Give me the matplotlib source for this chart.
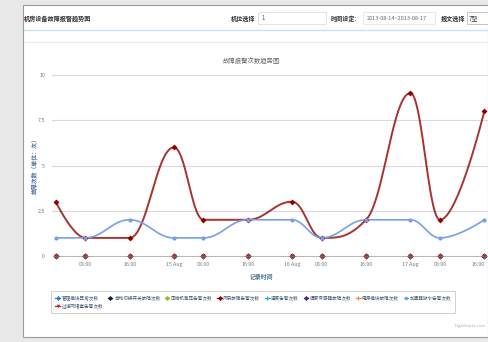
import numpy as np
import pandas as pd
import matplotlib
matplotlib.use("Agg")
import matplotlib.pyplot as plt
import matplotlib.dates as mdates
from matplotlib.patches import Rectangle
from matplotlib.lines import Line2D

plt.rcParams['font.family'] = ['Noto Sans CJK SC', 'DejaVu Sans']

# record times and fault counts
times = pd.to_datetime([
    "2013-08-14 00:00", "2013-08-14 06:00", "2013-08-14 15:00",
    "2013-08-15 00:00", "2013-08-15 06:00", "2013-08-15 15:00",
    "2013-08-16 00:00", "2013-08-16 06:00", "2013-08-16 15:00",
    "2013-08-17 00:00", "2013-08-17 06:00", "2013-08-17 15:00",
])
tick_labels = ["", "08:00", "16:00", "15 Aug", "08:00", "16:00",
               "16 Aug", "08:00", "16:00", "17 Aug", "08:00", "16:00"]

fan_faults = [3, 1, 1, 6, 2, 2, 3, 1, 2, 9, 2, 8]
humidifier_alarms = [1, 1, 2, 1, 1, 2, 2, 1, 2, 2, 1, 2]
zero_counts = [0] * 12

series_names = ["管理模块异常次数", "自动切换开关故障次数", "压缩机高压告警次数",
                "风扇故障告警次数", "温度告警次数", "湿度传感器故障次数",
                "电源模块故障次数", "加湿器缺水告警次数", "过滤网堵塞告警次数"]
series_colors = ['#2f7ed8', '#0d233a', '#8bbc21', '#910000', '#1aadce',
                 '#492970', '#f28f43', '#77a1e5', '#c42525']
series_markers = ['D', 'D', 'D', 'D', '+', 'D', '+', 'o', 'v']
series_values = [zero_counts, zero_counts, zero_counts, fan_faults, zero_counts,
                 zero_counts, zero_counts, humidifier_alarms, zero_counts]

W, H = 488, 342


def fx(x):
    return x / W


def fy(y):
    return 1 - y / H


def spline(xs, ys, smoothing=1.5, steps=40):
    # bezier spline through the points, highcharts style
    n = len(xs)
    lc = [(xs[i], ys[i]) for i in range(n)]
    rc = [(xs[i], ys[i]) for i in range(n)]
    d = smoothing + 1
    for i in range(1, n - 1):
        px, py = xs[i], ys[i]
        lx, ly = xs[i - 1], ys[i - 1]
        nx, ny = xs[i + 1], ys[i + 1]
        lcx = (smoothing * px + lx) / d
        lcy = (smoothing * py + ly) / d
        rcx = (smoothing * px + nx) / d
        rcy = (smoothing * py + ny) / d
        corr = (rcy - lcy) * (rcx - px) / (rcx - lcx) + py - rcy
        lcy += corr
        rcy += corr
        if lcy > ly and lcy > py:
            lcy = max(ly, py)
            rcy = 2 * py - lcy
        elif lcy < ly and lcy < py:
            lcy = min(ly, py)
            rcy = 2 * py - lcy
        if rcy > ny and rcy > py:
            rcy = max(ny, py)
            lcy = 2 * py - rcy
        elif rcy < ny and rcy < py:
            rcy = min(ny, py)
            lcy = 2 * py - rcy
        lc[i] = (lcx, lcy)
        rc[i] = (rcx, rcy)
    t = np.linspace(0, 1, steps)[:, None]
    out = []
    for i in range(1, n):
        p0 = np.array([xs[i - 1], ys[i - 1]])
        p1 = np.array(rc[i - 1])
        p2 = np.array(lc[i])
        p3 = np.array([xs[i], ys[i]])
        seg = ((1 - t) ** 3) * p0 + 3 * ((1 - t) ** 2) * t * p1 + 3 * (1 - t) * t ** 2 * p2 + t ** 3 * p3
        out.append(seg if i == 1 else seg[1:])
    out = np.vstack(out)
    return out[:, 0], out[:, 1]


fig = plt.figure(figsize=(W / 100, H / 100), dpi=100)
fig.patch.set_facecolor('#e8e8e8')

# white panel behind everything
fig.patches.append(Rectangle((fx(23), fy(337)), 1 - fx(23), fy(5) - fy(337),
                             transform=fig.transFigure, facecolor='white',
                             edgecolor='#9a9a9a', linewidth=0.8, zorder=-5))
fig.add_artist(Line2D([fx(24), 1], [fy(29.5), fy(29.5)], color='#c9e3ee', lw=1.0, zorder=-4))
fig.add_artist(Line2D([fx(24), 1], [fy(42), fy(42)], color='#ececec', lw=0.8, zorder=-4))

# header row
fig.text(fx(24), fy(18), "机房设备故障报警趋势图", fontsize=4.4, fontweight='bold',
         color='#333333', va='center', ha='left')
fig.text(fx(231), fy(18), "机位选择", fontsize=4.4, fontweight='bold', color='#333333', va='center')
fig.patches.append(Rectangle((fx(258), fy(24)), fx(68), fy(12) - fy(24), transform=fig.transFigure,
                             facecolor='white', edgecolor='#dddddd', lw=0.6, zorder=-4))
fig.text(fx(262), fy(18), "1", fontsize=4.4, color='#555555', va='center')
fig.text(fx(331), fy(18), "时间设定:", fontsize=4.4, fontweight='bold', color='#333333', va='center')
fig.patches.append(Rectangle((fx(363), fy(24)), fx(72), fy(12) - fy(24), transform=fig.transFigure,
                             facecolor='white', edgecolor='#e4e4e4', lw=0.6, zorder=-4))
fig.text(fx(367), fy(18), "2013-08-14~2013-08-17", fontsize=4.0, color='#666666', va='center')
fig.text(fx(441), fy(18), "报文选择", fontsize=4.4, fontweight='bold', color='#333333', va='center')
fig.patches.append(Rectangle((fx(467), fy(24)), fx(24), fy(12) - fy(24), transform=fig.transFigure,
                             facecolor='white', edgecolor='#bbbbbb', lw=0.6, zorder=-4))
fig.text(fx(469), fy(18), "7型", fontsize=4.4, color='#333333', va='center')

# chart
ax = fig.add_axes([fx(52), fy(256), 1 - fx(52), fy(75) - fy(256)])
ax.set_facecolor('none')
xnum = mdates.date2num(times)
pad = 0.75 / 24
ax.set_xlim(xnum[0] - pad, xnum[-1] + pad)
ax.set_ylim(0, 10)
ax.set_yticks([0, 2.5, 5, 7.5, 10])
ax.set_yticklabels(["0", "2.5", "5", "7.5", "10"])
ax.set_xticks(xnum)
ax.set_xticklabels(tick_labels)
ax.get_xticklabels()[-1].set_ha('right')
ax.tick_params(axis='both', length=0, labelsize=3.8, labelcolor='#777777')
ax.tick_params(axis='y', pad=5)
ax.tick_params(axis='x', pad=4)
for s in ax.spines.values():
    s.set_visible(False)
ax.grid(axis='y', color='#d9d9d9', lw=0.8)
ax.set_axisbelow(True)

for i, (name, col, mk, vals) in enumerate(zip(series_names, series_colors, series_markers, series_values)):
    vals = np.array(vals, dtype=float)
    if vals.any():
        sx, sy = spline(xnum, vals)
        ax.plot(sx, sy, color=col, lw=1.4 if i == 3 else 1.2, zorder=3 + i * 0.1,
                alpha=0.8 if i == 3 else 1)
    else:
        ax.plot(xnum, vals, color=col, lw=0.5, alpha=0.12, zorder=2, clip_on=False)
    mew = 0.9 if mk == '+' else 0
    ax.plot(xnum, vals, ls='none', marker=mk, color=col, markersize=3.0, mew=mew,
            zorder=4 + i * 0.1, clip_on=False)

fig.text(fx(251), fy(61), "故障报警次数趋势图", fontsize=4.6, color='#666666', ha='center', va='center')
fig.text(fx(35), fy(165), "故障次数（单位：次）", fontsize=4.2, color='#4d759e', rotation=90,
         ha='center', va='center', fontweight='bold')
fig.text(fx(262), fy(277), "记录时间", fontsize=4.2, color='#4d759e', ha='center', va='center',
         fontweight='bold')

# legend, first series placed so that the last item wraps to a second row
handles = [Line2D([], [], color=c, marker=m, markersize=2.6, lw=0.9,
                  mew=(0.8 if m == '+' else 0)) for c, m in zip(series_colors, series_markers)]
order = [0, 8, 1, 2, 3, 4, 5, 6, 7]
leg = fig.legend([handles[i] for i in order], [series_names[i] for i in order],
                 ncol=8, loc='upper left', bbox_to_anchor=(fx(49), fy(289)),
                 fontsize=3.3, frameon=True, handlelength=1.0, handletextpad=0.3,
                 columnspacing=1.05, labelspacing=0.6, borderpad=0.9, fancybox=True)
leg.get_frame().set_edgecolor('#bbbbbb')
leg.get_frame().set_linewidth(0.6)
for t in leg.get_texts():
    t.set_color('#3e576f')

fig.text(fx(486), fy(326), "Highcharts.com", fontsize=3.0, color='#aaaaaa', ha='right', va='center')

fig.savefig("out.png", dpi=100, facecolor=fig.get_facecolor())
